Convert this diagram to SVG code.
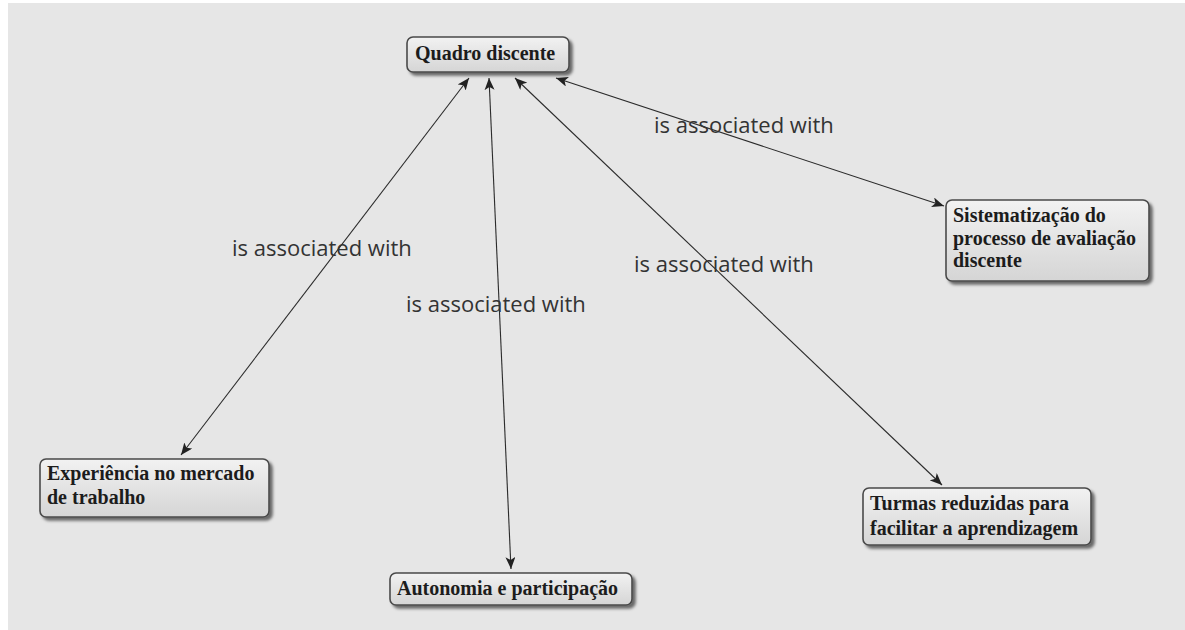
<svg xmlns="http://www.w3.org/2000/svg" width="1185" height="630" viewBox="0 0 1185 630">
<defs>
<linearGradient id="g" x1="0" y1="0" x2="0" y2="1">
<stop offset="0" stop-color="#f2f2f2"/>
<stop offset="1" stop-color="#d5d5d5"/>
</linearGradient>
<filter id="sh" x="-10%" y="-20%" width="120%" height="150%">
<feDropShadow dx="3" dy="3" stdDeviation="1.5" flood-color="#000" flood-opacity="0.55"/>
</filter>
<marker id="ah" viewBox="0 0 12 10" refX="12" refY="5" markerWidth="12" markerHeight="10" markerUnits="userSpaceOnUse" orient="auto-start-reverse">
<path d="M0,0 L12,5 L0,10 L3,5 Z" fill="#222"/>
</marker>
</defs>
<style>
.box{fill:url(#g);stroke:#4a4a4a;stroke-width:1.6;filter:url(#sh)}
.nt{font-family:"Liberation Serif","Times New Roman",serif;font-weight:bold;font-size:20px;fill:#1c1c1c}
.lk{fill:none;stroke:#2b2b2b;stroke-width:1.1;marker-start:url(#ah);marker-end:url(#ah)}
.lb{font-family:"Open Sans","Noto Sans",sans-serif;font-size:22px;fill:#333333}
</style>
<rect x="0" y="0" width="1185" height="630" fill="#ffffff"/>
<rect x="8" y="3" width="1177" height="627" fill="#e6e6e6"/>
<g id="connectors">
<line class="lk" x1="469" y1="78" x2="181" y2="455"/>
<line class="lk" x1="489" y1="78" x2="511" y2="569"/>
<line class="lk" x1="515" y1="78" x2="942" y2="485"/>
<line class="lk" x1="556" y1="78" x2="944" y2="206"/>
<text class="lb" x="232" y="256">is associated with</text>
<text class="lb" x="406" y="312">is associated with</text>
<text class="lb" x="634" y="272">is associated with</text>
<text class="lb" x="654" y="133">is associated with</text>
</g>
<g id="quadro">
<rect class="box" x="407" y="37" width="162" height="35" rx="6"/>
<text class="nt" x="415" y="60">Quadro discente</text>
</g>
<g id="sistematizacao">
<rect class="box" x="946" y="200" width="203" height="81" rx="6"/>
<text class="nt" x="953" y="222">Sistematização do</text>
<text class="nt" x="953" y="245">processo de avaliação</text>
<text class="nt" x="953" y="267">discente</text>
</g>
<g id="experiencia">
<rect class="box" x="40" y="459" width="229" height="58" rx="6"/>
<text class="nt" x="47" y="480">Experiência no mercado</text>
<text class="nt" x="47" y="504">de trabalho</text>
</g>
<g id="autonomia">
<rect class="box" x="390" y="573" width="242" height="32" rx="6"/>
<text class="nt" x="397" y="595">Autonomia e participação</text>
</g>
<g id="turmas">
<rect class="box" x="863" y="488" width="228" height="57" rx="6"/>
<text class="nt" x="870" y="510">Turmas reduzidas para</text>
<text class="nt" x="870" y="535">facilitar a aprendizagem</text>
</g>
</svg>
